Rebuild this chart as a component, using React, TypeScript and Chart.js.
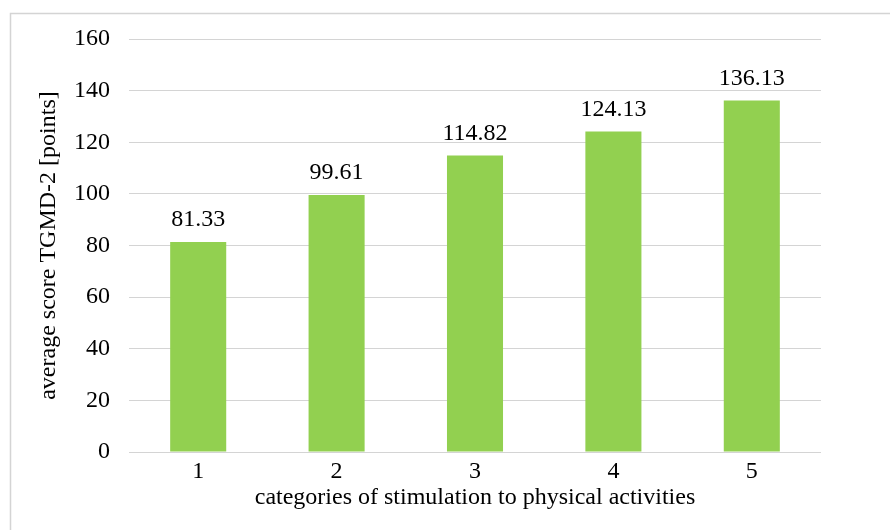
import { useEffect, useRef } from "react";
import { Chart, registerables } from "chart.js";

Chart.register(...registerables);

const categories = ["1", "2", "3", "4", "5"];
const scores = [81.33, 99.61, 114.82, 124.13, 136.13];
const scoreLabels = ["81.33", "99.61", "114.82", "124.13", "136.13"];
const yTitle = "average score TGMD-2 [points]";
const xTitle = "categories of stimulation to physical activities";

const FONT = "'Liberation Serif', 'Times New Roman', serif";
const FS = 24;

const framePlugin = {
  id: "frame",
  beforeDraw(chart: any) {
    const ctx = chart.ctx;
    ctx.save();
    ctx.fillStyle = "#ffffff";
    ctx.fillRect(0, 0, chart.width, chart.height);
    ctx.strokeStyle = "#d4d4d4";
    ctx.lineWidth = 1.5;
    ctx.strokeRect(10.5, 13.5, 1000, 1000);
    ctx.restore();
  },
};

const labelPlugin = {
  id: "valueLabels",
  afterDatasetsDraw(chart: any) {
    const ctx = chart.ctx;
    const meta = chart.getDatasetMeta(0);
    ctx.save();
    ctx.font = `${FS}px ${FONT}`;
    ctx.fillStyle = "#000000";
    ctx.textAlign = "center";
    ctx.textBaseline = "alphabetic";
    meta.data.forEach((bar: any, i: number) => {
      ctx.fillText(scoreLabels[i], bar.x, bar.y - 16);
    });
    ctx.restore();
  },
};

export default function App() {
  const ref = useRef<HTMLCanvasElement | null>(null);

  useEffect(() => {
    if (!ref.current) return;
    const chart = new Chart(ref.current, {
      type: "bar",
      data: {
        labels: categories,
        datasets: [
          {
            data: scores,
            backgroundColor: "#92D050",
            borderWidth: 0,
            barPercentage: 0.405,
            categoryPercentage: 1,
          },
        ],
      },
      options: {
        animation: false,
        responsive: false,
        devicePixelRatio: 1,
        layout: { padding: { left: 0, right: 69, top: 39, bottom: 0 } },
        plugins: {
          legend: { display: false },
          tooltip: { enabled: false },
        },
        scales: {
          x: {
            grid: { display: false, drawTicks: false },
            border: { display: false },
            ticks: {
              color: "#000",
              font: { family: FONT, size: FS },
              padding: 5,
            },
            title: {
              display: true,
              text: xTitle,
              color: "#000",
              font: { family: FONT, size: FS },
              padding: { top: 0, bottom: 18 },
            },
            afterFit(scale: any) {
              scale.height = 78;
            },
          },
          y: {
            min: 0,
            max: 160,
            ticks: {
              stepSize: 20,
              color: "#000",
              font: { family: FONT, size: FS },
              padding: 19,
            },
            grid: { color: "#d4d4d4", lineWidth: 1, drawTicks: false },
            border: { display: false },
            title: {
              display: true,
              text: yTitle,
              color: "#000",
              font: { family: FONT, size: FS },
              padding: { top: 34, bottom: 0 },
            },
            afterFit(scale: any) {
              scale.width = 129;
            },
          },
        },
      },
      plugins: [framePlugin, labelPlugin],
    });
    return () => chart.destroy();
  }, []);

  return (
    <div style={{ position: "fixed", left: 0, top: 0, width: 890, height: 530 }}>
      <canvas ref={ref} width={890} height={530} style={{ display: "block" }} />
    </div>
  );
}
